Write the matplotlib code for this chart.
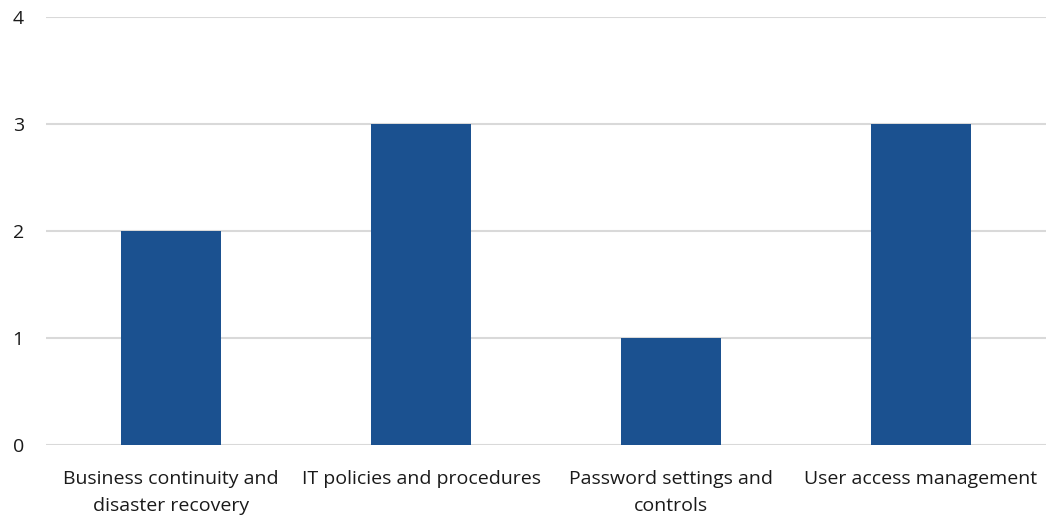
import matplotlib.pyplot as plt

categories = [
    "Business continuity and\ndisaster recovery",
    "IT policies and procedures",
    "Password settings and\ncontrols",
    "User access management",
]
counts = [2, 3, 1, 3]
y_ticks = [0, 1, 2, 3, 4]

plt.rcParams['font.family'] = ['Open Sans', 'DejaVu Sans']

fig = plt.figure(figsize=(10.48, 5.17), dpi=100)
ax = fig.add_axes([46 / 1048, 1 - 445 / 517, 1000 / 1048, 428 / 517])

x = range(len(categories))
ax.bar(x, counts, width=0.4, color='#1B5190', zorder=3)

ax.set_xlim(-0.5, len(categories) - 0.5)
ax.set_ylim(0, 4)
ax.set_yticks(y_ticks)
ax.set_xticks(list(x))
ax.set_xticklabels(categories, fontsize=14, color='#1a1a1a', linespacing=1.65)
ax.tick_params(axis='y', labelsize=14, labelcolor='#1a1a1a', length=0, pad=16)
ax.tick_params(axis='x', length=0, pad=18)

ax.grid(axis='y', color='#D9D9D9', linewidth=1.5, zorder=0)
for s in ax.spines.values():
    s.set_visible(False)

fig.savefig('out.png', dpi=100)
